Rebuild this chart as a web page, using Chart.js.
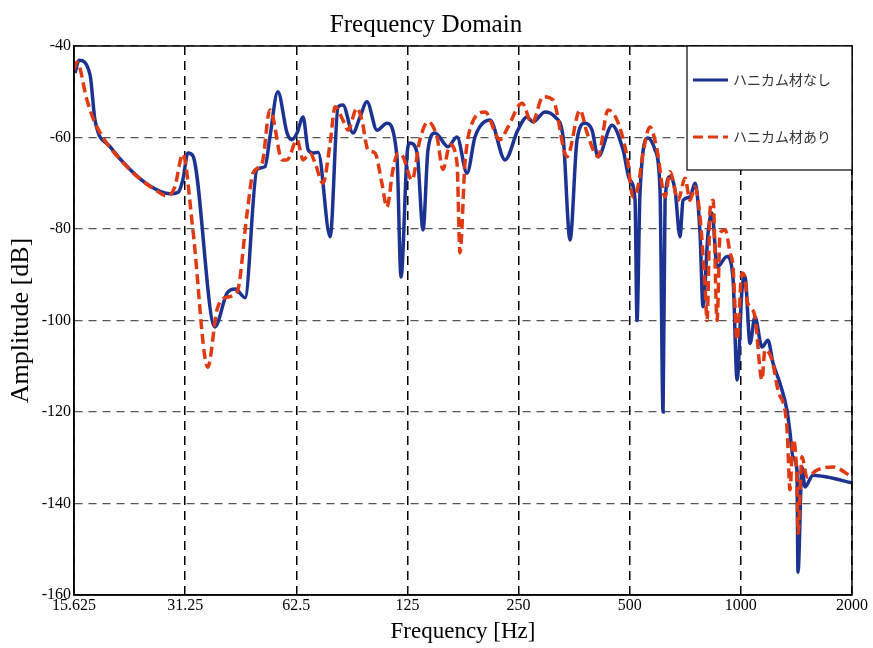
<!DOCTYPE html>
<html>
<head>
<meta charset="utf-8">
<script src="https://cdn.jsdelivr.net/npm/chart.js@4.4.1/dist/chart.umd.min.js"></script>
<style>
  html, body { margin: 0; padding: 0; background: #fff; }
</style>
</head>
<body>
<canvas id="myChart" width="873" height="648"></canvas>
<script>
// tick labels
var xTicks = [15.625, 31.25, 62.5, 125, 250, 500, 1000, 2000];
var yTicks = [-160, -140, -120, -100, -80, -60, -40];

// ハニカム材なし (blue, solid)
var freqNashi = [15.72, 16.12, 17.27, 17.81, 19.56, 22.16, 25.1, 28.4, 29.9, 30.8,
  31.8, 32.8, 37.6, 40.6, 42.7, 45.4, 48.9, 51.4, 53.0, 55.7,
  59.0, 60.8, 62.8, 65.2, 67.3, 69.4, 71.6, 77.2, 81.1, 83.6,
  89.0, 93.0, 97.1, 103.4, 110.0, 117.1, 120.1, 124.8, 127.0, 132.8,
  137.8, 142.1, 148.5, 161.0, 170.3, 181.3, 190.5, 209.2, 229.8, 248.8,
  263.6, 273.6, 294.8, 313.8, 330, 344.6, 360, 378.4, 395.3, 410.4,
  447.8, 479.7, 500, 516.9, 523.3, 533.2, 560.4, 585.6, 604, 615.6,
  623.3, 643.1, 663.4, 684.3, 697.3, 728.2, 751.2, 775.2, 789.8, 815,
  835.6, 862.2, 917.5, 952.6, 976.7, 1007, 1026, 1059, 1092, 1141,
  1184, 1222, 1276, 1333, 1359, 1384, 1419, 1428, 1464, 1492,
  1568, 1711, 2000];
var dbNashi = [-45.9, -43.1, -46.3, -56.2, -62, -67, -70.6, -72.3, -72, -69.3,
  -63.4, -64, -101.4, -94, -93.1, -95, -67, -66.4, -60, -50,
  -59, -60.5, -59, -55.5, -62.7, -63.4, -63.2, -81.7, -53.3, -52.9,
  -59, -55.5, -52.2, -58.4, -56.9, -64.2, -90.5, -63.4, -61.2, -63.4,
  -80.2, -62.7, -59, -62, -59.9, -67.8, -59.9, -56.2, -64.9, -58.4,
  -55.5, -56.6, -54.4, -55.5, -59.9, -82.4, -60.5, -56.9, -58.4, -64.2,
  -57.3, -62.7, -69.3, -73.7, -100, -72, -60.1, -62.7, -71.5, -120,
  -73.7, -68.6, -71.5, -81.7, -73.7, -73, -70, -80.9, -97, -80.9,
  -76.5, -88.3, -86, -91, -113, -93.3, -90.5, -105, -99.2, -105.8,
  -104.3, -109.3, -113.7, -119.6, -124.6, -129.8, -132.7, -155, -132, -136.4,
  -133.8, -134.2, -135.5];

// ハニカム材あり (red, dashed)
var freqAri = [15.625, 15.92, 16.94, 17.81, 21.75, 26.7, 27.9, 29.3, 30.8, 32.8,
  36.0, 38.1, 40.6, 43.2, 46.0, 47.7, 50.5, 53.0, 54.0, 57.2,
  59.0, 62.8, 65.2, 68.1, 70.3, 73.8, 77.2, 79.6, 83.6, 86.3,
  91.2, 94.1, 97.7, 102.1, 106.6, 110.0, 114.2, 117.9, 121.6, 128.6,
  135.1, 142.1, 150.3, 156, 163, 170.3, 173.5, 179, 187, 202.8,
  222.6, 234.1, 255.4, 271.8, 291.3, 310, 338.2, 366.8, 383.2, 410.4,
  436.8, 462, 491.8, 510.4, 526.5, 543.3, 567.4, 593, 623.3, 643.1,
  676, 706, 728.2, 751.2, 775.2, 800, 810, 825.3, 841, 862.2,
  878.5, 906.4, 935, 952.6, 976.7, 1007, 1026, 1039, 1059, 1092,
  1141, 1162, 1214, 1260, 1333, 1359, 1384, 1419, 1428, 1464,
  1510, 1607, 1775, 2000];
var dbAri = [-45.2, -43.5, -51.8, -56.8, -66.4, -72.1, -72.8, -70.8, -63.6, -80.2,
  -110.2, -97.7, -94.9, -93.8, -76.5, -67.8, -65.6, -54, -55.5, -64.9,
  -64.9, -60.5, -64.9, -63.4, -65.6, -70, -61.2, -53.3, -56.2, -58.4,
  -53.6, -56.2, -62.7, -63.4, -70, -75.2, -67, -63.4, -64.2, -69.3,
  -60.5, -56.6, -59.9, -67, -61.6, -65.6, -85.2, -65.6, -56.9, -54.4,
  -60.5, -57.7, -52.5, -56.9, -51.1, -51.8, -64.2, -54, -59, -64.2,
  -54, -56.2, -64.2, -73, -70.8, -63.4, -57.7, -62.7, -73, -67.5,
  -73.7, -68.9, -73.7, -70.8, -77.4, -92.7, -100, -75.8, -73.7, -100,
  -80.9, -80.2, -85.2, -88.3, -104.3, -89.6, -90.5, -95.5, -97, -99.2,
  -113, -106.4, -108.6, -115.2, -123.3, -137, -126, -135.5, -146.5, -129.8,
  -134.2, -132.7, -132, -134.2];

function toPoints(xs, ys) {
  return xs.map(function (x, i) { return { x: x, y: ys[i] }; });
}

// frame round the plot and the boxed legend in the top-right corner
var frameAndLegend = {
  id: "frameAndLegend",
  afterDraw: function (chart) {
    var ctx = chart.ctx;
    var a = chart.chartArea;
    ctx.save();
    ctx.strokeStyle = "#000";
    ctx.lineWidth = 1.5;
    ctx.strokeRect(a.left, a.top, a.right - a.left, a.bottom - a.top);

    var bw = 165, bh = 124;
    var bx = a.right - bw, by = a.top;
    ctx.fillStyle = "#fff";
    ctx.fillRect(bx, by, bw, bh);
    ctx.lineWidth = 1.2;
    ctx.strokeRect(bx, by, bw, bh);

    chart.data.datasets.forEach(function (ds, i) {
      var y = by + 34 + i * 57;
      ctx.beginPath();
      ctx.setLineDash(ds.borderDash || []);
      ctx.strokeStyle = ds.borderColor;
      ctx.lineWidth = 3;
      ctx.moveTo(bx + 6, y);
      ctx.lineTo(bx + 41, y);
      ctx.stroke();
      ctx.setLineDash([]);
      ctx.fillStyle = "#333";
      ctx.font = '14px "Noto Sans CJK JP"';
      ctx.textBaseline = "middle";
      ctx.textAlign = "left";
      ctx.fillText(ds.label, bx + 46, y);
    });
    ctx.restore();
  },
};

var ctx = document.getElementById("myChart");
var myChart = new Chart(ctx, {
  type: "line",
  data: {
    datasets: [
      {
        label: "ハニカム材なし",
        data: toPoints(freqNashi, dbNashi),
        borderColor: "#1c3391",
        backgroundColor: "#1c3391",
        borderWidth: 3.5,
        pointRadius: 0,
        cubicInterpolationMode: "monotone",
        order: 2,
      },
      {
        label: "ハニカム材あり",
        data: toPoints(freqAri, dbAri),
        borderColor: "#e03a12",
        backgroundColor: "#e03a12",
        borderWidth: 3.5,
        borderDash: [10, 5],
        pointRadius: 0,
        cubicInterpolationMode: "monotone",
        order: 1,
      },
    ],
  },
  options: {
    responsive: false,
    animation: false,
    devicePixelRatio: 1,
    layout: { padding: { left: 0, right: 21, top: 0, bottom: 0 } },
    plugins: {
      legend: { display: false },
      tooltip: { enabled: false },
      title: {
        display: true,
        text: "Frequency Domain",
        color: "#000",
        font: { family: "Liberation Serif", size: 25, weight: "normal", lineHeight: 1.2 },
        padding: { top: 10, bottom: 6 },
      },
    },
    scales: {
      x: {
        type: "logarithmic",
        min: 15.625,
        max: 2000,
        afterBuildTicks: function (scale) {
          scale.ticks = xTicks.map(function (v) { return { value: v }; });
        },
        afterFit: function (scale) { scale.height = 53; },
        ticks: {
          autoSkip: false,
          maxRotation: 0,
          padding: 1,
          color: "#000",
          font: { family: "Liberation Serif", size: 16 },
          callback: function (v) { return String(v); },
        },
        grid: { color: "#000", lineWidth: 1.5, drawTicks: false },
        border: { display: true, color: "#000", width: 1.5, dash: [9, 6] },
        title: {
          display: true,
          text: "Frequency [Hz]",
          color: "#000",
          font: { family: "Liberation Serif", size: 23, lineHeight: 1.2 },
          padding: { top: 0, bottom: 2 },
        },
      },
      y: {
        min: -160,
        max: -40,
        afterBuildTicks: function (scale) {
          scale.ticks = yTicks.map(function (v) { return { value: v }; });
        },
        afterFit: function (scale) { scale.width = 74; },
        ticks: {
          padding: 3,
          color: "#000",
          font: { family: "Liberation Serif", size: 16 },
        },
        grid: { color: "#555", lineWidth: 1.2, drawTicks: false },
        border: { display: true, color: "#000", width: 1.5, dash: [8, 6] },
        title: {
          display: true,
          text: "Amplitude [dB]",
          color: "#000",
          font: { family: "Liberation Serif", size: 26, lineHeight: 1.2 },
          padding: { top: 6, bottom: 0 },
        },
      },
    },
  },
  plugins: [frameAndLegend],
});
</script>
</body>
</html>
